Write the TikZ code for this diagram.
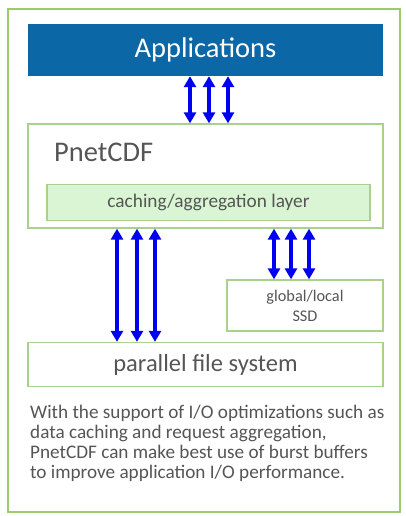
\documentclass[tikz,border=0pt]{standalone}
\usepackage{fontspec}
\setmainfont{Carlito}
\usetikzlibrary{arrows.meta}
\definecolor{frameg}{HTML}{9CCC6A}
\definecolor{boxg}{HTML}{A9D18E}
\definecolor{cachefill}{HTML}{D9F5D3}
\definecolor{appblue}{HTML}{0B67A6}
\definecolor{txtgray}{HTML}{555555}
\definecolor{arrblue}{HTML}{0000F0}
\begin{document}
\begin{tikzpicture}[x=1pt,y=-1pt,
  gbox/.style={draw=boxg,line width=1.3pt,inner sep=0pt,text=txtgray},
  arr/.style={draw=arrblue,line width=3.6pt,{Triangle[width=12pt,length=11pt]}-{Triangle[width=12pt,length=11pt]}},
  ]
\useasboundingbox (0,0) rectangle (405,516);
\draw[frameg,line width=1.5pt] (8,9) rectangle (400,512);
\node[fill=appblue,inner sep=0pt,minimum width=355pt,minimum height=52pt,text=white,font=\fontsize{28.5}{32}\selectfont] (apps) at (205.5,50) {Applications};
\node[gbox,minimum width=355pt,minimum height=104pt] (pnet) at (205.5,176) {};
\node[anchor=west,text=txtgray,inner sep=0pt,font=\fontsize{28.5}{32}\selectfont] (pnetlbl) at (54,152) {PnetCDF};
\node[gbox,fill=cachefill,minimum width=323pt,minimum height=36pt,font=\fontsize{19.3}{22}\selectfont] (cache) at (208.5,202.5) {caching/aggregation layer};
\node[gbox,minimum width=156pt,minimum height=51pt,align=center,font=\fontsize{16.3}{20}\selectfont] (ssd) at (305,305.5) {global/local\\SSD};
\node[gbox,minimum width=355pt,minimum height=44pt,font=\fontsize{24.5}{28}\selectfont] (pfs) at (205.5,364.5) {parallel file system};
\node[anchor=north west,align=left,text=txtgray,inner sep=0pt,font=\fontsize{19.2}{20}\selectfont] (cap) at (30,405) {With the support of I/O optimizations such as\\data caching and request aggregation,\\PnetCDF can make best use of burst buffers\\to improve application I/O performance.};
\foreach \x in {190,209,228} \draw[arr] (apps.south -| \x,0) -- (pnet.north -| \x,0);
\foreach \x in {117,137,155} \draw[arr] (pnet.south -| \x,0) -- (pfs.north -| \x,0);
\foreach \x in {274,291,309} \draw[arr] (pnet.south -| \x,0) -- (ssd.north -| \x,0);
\end{tikzpicture}
\end{document}
